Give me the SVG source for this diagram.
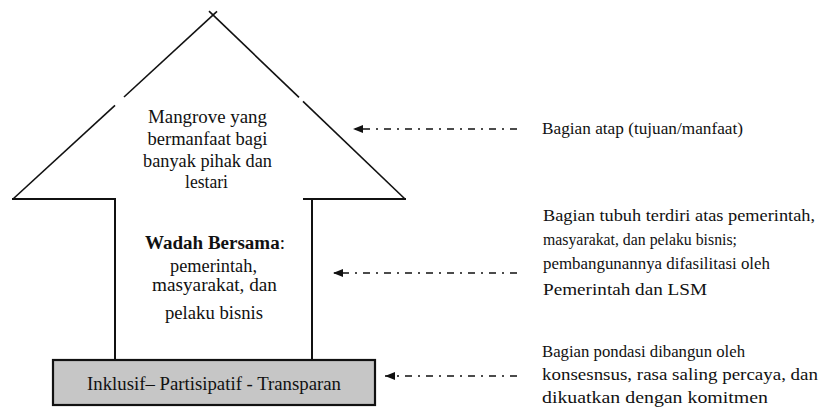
<svg xmlns="http://www.w3.org/2000/svg" width="822" height="407" viewBox="0 0 822 407">
<defs>
<marker id="ah" viewBox="0 0 10 8" refX="10" refY="4" markerWidth="10" markerHeight="8" markerUnits="userSpaceOnUse" orient="auto">
<path d="M0,0 L10,4 L0,8 Z" fill="#111"/>
</marker>
</defs>
<rect width="822" height="407" fill="#fff"/>
<g id="roof">
<g stroke="#111" stroke-width="1.6" fill="none">
<line x1="217" y1="11.3" x2="124" y2="97"/>
<line x1="115" y1="105.3" x2="13" y2="199"/>
<line x1="209" y1="11.2" x2="299" y2="97.4"/>
<line x1="303" y1="101.3" x2="405" y2="199"/>
<line x1="12" y1="199" x2="116" y2="199" stroke-width="2"/>
<line x1="303" y1="199" x2="406" y2="199" stroke-width="2"/>
</g>
<g font-family="Liberation Serif" font-size="18" text-anchor="middle" fill="#111">
<text x="207.5" y="123" textLength="119" lengthAdjust="spacingAndGlyphs">Mangrove yang</text>
<text x="207.5" y="145" textLength="120" lengthAdjust="spacingAndGlyphs">bermanfaat bagi</text>
<text x="207.5" y="167" textLength="129" lengthAdjust="spacingAndGlyphs">banyak pihak dan</text>
<text x="206.5" y="188" textLength="43" lengthAdjust="spacingAndGlyphs">lestari</text>
</g>
</g>
<g id="body">
<g stroke="#111" stroke-width="2" fill="none">
<line x1="115" y1="198" x2="115" y2="360"/>
<line x1="312" y1="198" x2="312" y2="360"/>
</g>
<g font-family="Liberation Serif" font-size="18" text-anchor="middle" fill="#111">
<text x="215" y="249" font-weight="bold" textLength="140" lengthAdjust="spacingAndGlyphs">Wadah Bersama<tspan font-weight="normal">:</tspan></text>
<text x="213.5" y="272" textLength="87" lengthAdjust="spacingAndGlyphs">pemerintah,</text>
<text x="214.5" y="291" textLength="125" lengthAdjust="spacingAndGlyphs">masyarakat, dan</text>
<text x="214" y="319" textLength="98" lengthAdjust="spacingAndGlyphs">pelaku bisnis</text>
</g>
</g>
<g id="base">
<rect x="53" y="360" width="322" height="45" fill="#c6c6c6" stroke="#111" stroke-width="2.2"/>
<text x="214" y="390" textLength="254" lengthAdjust="spacingAndGlyphs" font-family="Liberation Serif" font-size="18" text-anchor="middle" fill="#111">Inklusif– Partisipatif - Transparan</text>
</g>
<g id="connectors" stroke="#111" stroke-width="1.6" fill="none" stroke-dasharray="7 6 2 6" marker-end="url(#ah)">
<line x1="517" y1="129" x2="353" y2="129"/>
<line x1="517" y1="273" x2="333" y2="273"/>
<line x1="517" y1="376" x2="385" y2="376"/>
</g>
<g id="label-roof" font-family="Liberation Serif" font-size="17" fill="#111">
<text x="542" y="134" textLength="201" lengthAdjust="spacingAndGlyphs">Bagian atap (tujuan/manfaat)</text>
</g>
<g id="label-body" font-family="Liberation Serif" font-size="17" fill="#111">
<text x="543" y="221" textLength="272" lengthAdjust="spacingAndGlyphs">Bagian tubuh terdiri atas pemerintah,</text>
<text x="543" y="245" textLength="194" lengthAdjust="spacingAndGlyphs">masyarakat, dan pelaku bisnis;</text>
<text x="543" y="269" textLength="227" lengthAdjust="spacingAndGlyphs">pembangunannya difasilitasi oleh</text>
<text x="543" y="295" textLength="164" lengthAdjust="spacingAndGlyphs">Pemerintah dan LSM</text>
</g>
<g id="label-base" font-family="Liberation Serif" font-size="17" fill="#111">
<text x="542" y="357" textLength="203" lengthAdjust="spacingAndGlyphs">Bagian pondasi dibangun oleh</text>
<text x="542" y="380" textLength="276" lengthAdjust="spacingAndGlyphs">konsesnsus, rasa saling percaya, dan</text>
<text x="542" y="403" textLength="226" lengthAdjust="spacingAndGlyphs">dikuatkan dengan komitmen</text>
</g>
</svg>
